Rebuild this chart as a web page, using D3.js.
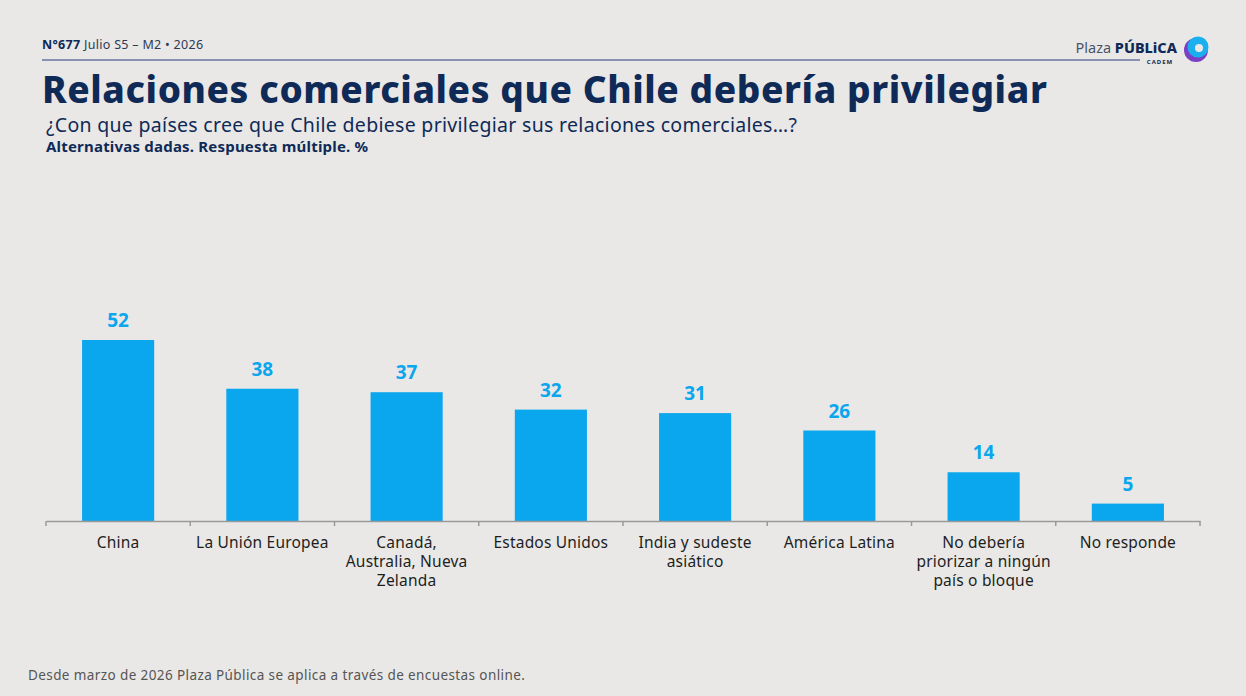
<!DOCTYPE html>
<html>
<head>
<meta charset="utf-8">
<style> html,body {padding:0; margin:0; background:#e9e8e6} text{font-family:"Noto Sans",sans-serif}</style>
</head>
<body>
<script src="https://d3js.org/d3.v7.min.js"></script>
<script>
var categories = ["China", "La Unión Europea", "Canadá, Australia, Nueva Zelanda", "Estados Unidos",
  "India y sudeste asiático", "América Latina", "No debería priorizar a ningún país o bloque", "No responde"];
var categoryLines = [["China"], ["La Unión Europea"], ["Canadá,", "Australia, Nueva", "Zelanda"], ["Estados Unidos"],
  ["India y sudeste", "asiático"], ["América Latina"], ["No debería", "priorizar a ningún", "país o bloque"], ["No responde"]];
var values = [52, 38, 37, 32, 31, 26, 14, 5];

var width = 1246, height = 696;
var navy = "#0f2a57", blue = "#0aa6ee";

var svg = d3.select("body").append("svg").attr("width", width).attr("height", height);

// header
svg.append("text").attr("x", 42).attr("y", 49).attr("font-size", 12.5).attr("fill", "#2c3a55")
  .attr("letter-spacing", 0.3)
  .html('<tspan font-weight="700" fill="'+navy+'">N°677</tspan> Julio S5 – M2 • 2026');
svg.append("line").attr("x1", 42).attr("x2", 1140).attr("y1", 60).attr("y2", 60)
  .attr("stroke", "#2b3a7a").attr("stroke-width", 1);
svg.append("text").attr("x", 1177).attr("y", 53).attr("text-anchor", "end").attr("font-size", 14.5)
  .attr("fill", "#4a5468").html('Plaza <tspan font-weight="800" fill="'+navy+'">PÚBLiCA</tspan>');
svg.append("text").attr("x", 1160).attr("y", 64).attr("text-anchor", "middle").attr("font-size", 6)
  .attr("font-weight", 700).attr("fill", navy).attr("letter-spacing", 1).text("CADEM");
svg.append("circle").attr("cx", 1196).attr("cy", 50).attr("r", 12).attr("fill", "#7b3fc4");
svg.append("circle").attr("cx", 1198).attr("cy", 47).attr("r", 10.5).attr("fill", "#1ab0f0");
svg.append("circle").attr("cx", 1199).attr("cy", 48).attr("r", 4).attr("fill", "#e9e8e6");

svg.append("text").attr("x", 42).attr("y", 103).attr("font-size", 37).attr("font-weight", 800)
  .attr("fill", navy).attr("letter-spacing", 0.6).text("Relaciones comerciales que Chile debería privilegiar");
svg.append("text").attr("x", 46).attr("y", 132).attr("font-size", 19.5).attr("fill", navy)
  .attr("letter-spacing", 0.3)
  .text("¿Con que países cree que Chile debiese privilegiar sus relaciones comerciales…?");
svg.append("text").attr("x", 46).attr("y", 152).attr("font-size", 15).attr("font-weight", 700)
  .attr("fill", navy).attr("letter-spacing", 0.2).text("Alternativas dadas. Respuesta múltiple. %");

// chart
var x = d3.scaleBand().domain(categories).range([46, 1200]).paddingInner(0.5).paddingOuter(0.25);
var y = d3.scaleLinear().domain([0, 52]).range([521, 340]);

svg.selectAll("rect.bar").data(values).enter().append("rect").attr("class", "bar")
  .attr("x", function(d, i) { return x(categories[i]); })
  .attr("width", x.bandwidth())
  .attr("y", function(d) { return y(d); })
  .attr("height", function(d) { return y(0) - y(d); })
  .attr("fill", blue);

svg.selectAll("text.val").data(values).enter().append("text").attr("class", "val")
  .attr("x", function(d, i) { return x(categories[i]) + x.bandwidth() / 2; })
  .attr("y", function(d) { return y(d) - 13; })
  .attr("text-anchor", "middle").attr("font-size", 19).attr("font-weight", 700)
  .attr("fill", blue).text(function(d) { return d; });

var axis = d3.axisBottom(x).tickSize(0).tickFormat("");
svg.append("g").attr("transform", "translate(0,521)").call(axis)
  .select(".domain").attr("stroke", "#9a9a9a").attr("stroke-width", 1.5);
var bounds = d3.range(categories.length + 1).map(function(i) { return 46 + i * (1154 / categories.length); });
svg.selectAll("line.sep").data(bounds).enter().append("line").attr("class", "sep")
  .attr("x1", function(d) { return d; }).attr("x2", function(d) { return d; })
  .attr("y1", 521).attr("y2", 526).attr("stroke", "#9a9a9a").attr("stroke-width", 1.5);

svg.selectAll("text.cat").data(categoryLines).enter().append("text").attr("class", "cat")
  .attr("x", function(d, i) { return x(categories[i]) + x.bandwidth() / 2; })
  .attr("y", 548).attr("text-anchor", "middle").attr("font-size", 15.5).attr("fill", "#1e1e1e")
  .attr("letter-spacing", 0.2)
  .each(function(d) {
    var t = d3.select(this), cx = t.attr("x");
    d.forEach(function(line, j) {
      t.append("tspan").attr("x", cx).attr("dy", j ? 19 : 0).text(line);
    });
  });

svg.append("text").attr("x", 28).attr("y", 680).attr("font-size", 13.5).attr("fill", "#555")
  .attr("letter-spacing", 0.4)
  .text("Desde marzo de 2026 Plaza Pública se aplica a través de encuestas online.");
</script>
</body>
</html>
